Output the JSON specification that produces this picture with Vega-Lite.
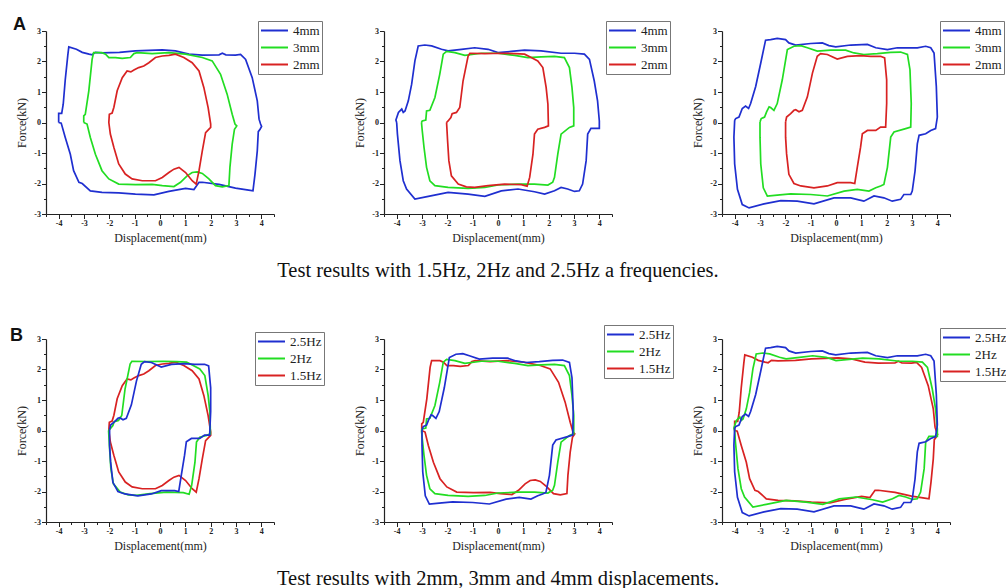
{
"$schema": "https://vega.github.io/schema/vega-lite/v6.json",
"padding": {"left": 10, "top": 15, "right": 0, "bottom": 0},
"background": "white",
"config": {
  "view": {"stroke": null},
  "axis": {"domainColor": "#222", "tickColor": "#222", "labelColor": "#222", "labelFont": "Liberation Serif", "labelFontWeight": "bold", "labelFontSize": 8, "titleFont": "Liberation Serif", "titleFontWeight": "normal", "titleFontSize": 12, "titleColor": "#222", "grid": false, "labelPadding": 1, "titlePadding": 5, "domainWidth": 1.2, "tickWidth": 1},
  "legend": {"orient": "none", "symbolType": "M-1,0H3.15", "symbolSize": 169, "symbolStrokeWidth": 2, "labelFont": "Liberation Serif", "labelFontSize": 13, "labelColor": "#222", "labelOffset": 18, "rowPadding": 2, "padding": 2, "strokeColor": "#777", "fillColor": "white"}
},
"datasets": {
"loops": [
{"f":"1.5Hz","a":"4mm","x":-4.0,"y":0.0},{"f":"1.5Hz","a":"4mm","x":-4.0,"y":0.3},{"f":"1.5Hz","a":"4mm","x":-3.88,"y":0.3},{"f":"1.5Hz","a":"4mm","x":-3.82,"y":0.6},{"f":"1.5Hz","a":"4mm","x":-3.74,"y":1.4},{"f":"1.5Hz","a":"4mm","x":-3.64,"y":2.2},{"f":"1.5Hz","a":"4mm","x":-3.6,"y":2.48},{"f":"1.5Hz","a":"4mm","x":-3.3,"y":2.4},{"f":"1.5Hz","a":"4mm","x":-3.07,"y":2.3},{"f":"1.5Hz","a":"4mm","x":-2.8,"y":2.24},{"f":"1.5Hz","a":"4mm","x":-2.68,"y":2.22},{"f":"1.5Hz","a":"4mm","x":-2.55,"y":2.3},{"f":"1.5Hz","a":"4mm","x":-2.29,"y":2.28},{"f":"1.5Hz","a":"4mm","x":-1.6,"y":2.3},{"f":"1.5Hz","a":"4mm","x":-0.97,"y":2.35},{"f":"1.5Hz","a":"4mm","x":0.09,"y":2.38},{"f":"1.5Hz","a":"4mm","x":0.61,"y":2.35},{"f":"1.5Hz","a":"4mm","x":1.14,"y":2.24},{"f":"1.5Hz","a":"4mm","x":1.67,"y":2.21},{"f":"1.5Hz","a":"4mm","x":2.33,"y":2.22},{"f":"1.5Hz","a":"4mm","x":2.46,"y":2.27},{"f":"1.5Hz","a":"4mm","x":2.6,"y":2.22},{"f":"1.5Hz","a":"4mm","x":2.98,"y":2.21},{"f":"1.5Hz","a":"4mm","x":3.18,"y":2.23},{"f":"1.5Hz","a":"4mm","x":3.38,"y":2.07},{"f":"1.5Hz","a":"4mm","x":3.64,"y":1.47},{"f":"1.5Hz","a":"4mm","x":3.84,"y":0.71},{"f":"1.5Hz","a":"4mm","x":3.91,"y":0.11},{"f":"1.5Hz","a":"4mm","x":3.97,"y":-0.05},{"f":"1.5Hz","a":"4mm","x":4.01,"y":-0.13},{"f":"1.5Hz","a":"4mm","x":3.95,"y":-0.22},{"f":"1.5Hz","a":"4mm","x":3.88,"y":-0.3},{"f":"1.5Hz","a":"4mm","x":3.84,"y":-0.93},{"f":"1.5Hz","a":"4mm","x":3.75,"y":-1.69},{"f":"1.5Hz","a":"4mm","x":3.67,"y":-2.24},{"f":"1.5Hz","a":"4mm","x":3.5,"y":-2.22},{"f":"1.5Hz","a":"4mm","x":2.98,"y":-2.15},{"f":"1.5Hz","a":"4mm","x":2.33,"y":-2.03},{"f":"1.5Hz","a":"4mm","x":1.67,"y":-1.96},{"f":"1.5Hz","a":"4mm","x":1.54,"y":-1.96},{"f":"1.5Hz","a":"4mm","x":1.34,"y":-2.2},{"f":"1.5Hz","a":"4mm","x":1.01,"y":-2.16},{"f":"1.5Hz","a":"4mm","x":0.35,"y":-2.26},{"f":"1.5Hz","a":"4mm","x":-0.24,"y":-2.37},{"f":"1.5Hz","a":"4mm","x":-0.97,"y":-2.35},{"f":"1.5Hz","a":"4mm","x":-1.63,"y":-2.31},{"f":"1.5Hz","a":"4mm","x":-2.29,"y":-2.29},{"f":"1.5Hz","a":"4mm","x":-2.75,"y":-2.24},{"f":"1.5Hz","a":"4mm","x":-3.07,"y":-2.0},{"f":"1.5Hz","a":"4mm","x":-3.2,"y":-1.96},{"f":"1.5Hz","a":"4mm","x":-3.41,"y":-1.58},{"f":"1.5Hz","a":"4mm","x":-3.54,"y":-1.04},{"f":"1.5Hz","a":"4mm","x":-3.74,"y":-0.49},{"f":"1.5Hz","a":"4mm","x":-3.9,"y":-0.02},{"f":"1.5Hz","a":"4mm","x":-4.0,"y":0.0},
{"f":"1.5Hz","a":"3mm","x":-3.01,"y":0.0},{"f":"1.5Hz","a":"3mm","x":-3.01,"y":0.22},{"f":"1.5Hz","a":"3mm","x":-2.95,"y":0.27},{"f":"1.5Hz","a":"3mm","x":-2.81,"y":1.04},{"f":"1.5Hz","a":"3mm","x":-2.68,"y":2.07},{"f":"1.5Hz","a":"3mm","x":-2.62,"y":2.29},{"f":"1.5Hz","a":"3mm","x":-2.29,"y":2.29},{"f":"1.5Hz","a":"3mm","x":-2.15,"y":2.24},{"f":"1.5Hz","a":"3mm","x":-2.02,"y":2.13},{"f":"1.5Hz","a":"3mm","x":-1.76,"y":2.13},{"f":"1.5Hz","a":"3mm","x":-1.49,"y":2.1},{"f":"1.5Hz","a":"3mm","x":-1.17,"y":2.13},{"f":"1.5Hz","a":"3mm","x":-1.03,"y":2.26},{"f":"1.5Hz","a":"3mm","x":-0.9,"y":2.29},{"f":"1.5Hz","a":"3mm","x":-0.31,"y":2.26},{"f":"1.5Hz","a":"3mm","x":0.35,"y":2.29},{"f":"1.5Hz","a":"3mm","x":1.01,"y":2.24},{"f":"1.5Hz","a":"3mm","x":1.67,"y":2.13},{"f":"1.5Hz","a":"3mm","x":2.06,"y":2.02},{"f":"1.5Hz","a":"3mm","x":2.39,"y":1.58},{"f":"1.5Hz","a":"3mm","x":2.65,"y":0.93},{"f":"1.5Hz","a":"3mm","x":2.85,"y":0.27},{"f":"1.5Hz","a":"3mm","x":2.96,"y":-0.05},{"f":"1.5Hz","a":"3mm","x":3.03,"y":-0.11},{"f":"1.5Hz","a":"3mm","x":2.94,"y":-0.22},{"f":"1.5Hz","a":"3mm","x":2.85,"y":-0.71},{"f":"1.5Hz","a":"3mm","x":2.76,"y":-1.47},{"f":"1.5Hz","a":"3mm","x":2.72,"y":-2.07},{"f":"1.5Hz","a":"3mm","x":2.46,"y":-2.11},{"f":"1.5Hz","a":"3mm","x":2.19,"y":-2.07},{"f":"1.5Hz","a":"3mm","x":1.93,"y":-1.85},{"f":"1.5Hz","a":"3mm","x":1.67,"y":-1.67},{"f":"1.5Hz","a":"3mm","x":1.47,"y":-1.62},{"f":"1.5Hz","a":"3mm","x":1.27,"y":-1.64},{"f":"1.5Hz","a":"3mm","x":1.07,"y":-1.75},{"f":"1.5Hz","a":"3mm","x":0.81,"y":-1.96},{"f":"1.5Hz","a":"3mm","x":0.55,"y":-2.1},{"f":"1.5Hz","a":"3mm","x":0.09,"y":-2.07},{"f":"1.5Hz","a":"3mm","x":-0.31,"y":-2.03},{"f":"1.5Hz","a":"3mm","x":-0.97,"y":-2.04},{"f":"1.5Hz","a":"3mm","x":-1.63,"y":-2.02},{"f":"1.5Hz","a":"3mm","x":-2.02,"y":-1.85},{"f":"1.5Hz","a":"3mm","x":-2.29,"y":-1.58},{"f":"1.5Hz","a":"3mm","x":-2.55,"y":-1.04},{"f":"1.5Hz","a":"3mm","x":-2.75,"y":-0.49},{"f":"1.5Hz","a":"3mm","x":-2.88,"y":-0.05},{"f":"1.5Hz","a":"3mm","x":-3.01,"y":0.0},
{"f":"1.5Hz","a":"2mm","x":-2.02,"y":0.0},{"f":"1.5Hz","a":"2mm","x":-2.0,"y":0.27},{"f":"1.5Hz","a":"2mm","x":-1.89,"y":0.31},{"f":"1.5Hz","a":"2mm","x":-1.82,"y":0.5},{"f":"1.5Hz","a":"2mm","x":-1.69,"y":1.04},{"f":"1.5Hz","a":"2mm","x":-1.49,"y":1.47},{"f":"1.5Hz","a":"2mm","x":-1.3,"y":1.69},{"f":"1.5Hz","a":"2mm","x":-1.15,"y":1.66},{"f":"1.5Hz","a":"2mm","x":-1.03,"y":1.72},{"f":"1.5Hz","a":"2mm","x":-0.84,"y":1.8},{"f":"1.5Hz","a":"2mm","x":-0.64,"y":1.85},{"f":"1.5Hz","a":"2mm","x":-0.44,"y":1.96},{"f":"1.5Hz","a":"2mm","x":-0.18,"y":2.13},{"f":"1.5Hz","a":"2mm","x":0.09,"y":2.18},{"f":"1.5Hz","a":"2mm","x":0.35,"y":2.2},{"f":"1.5Hz","a":"2mm","x":0.61,"y":2.24},{"f":"1.5Hz","a":"2mm","x":0.94,"y":2.13},{"f":"1.5Hz","a":"2mm","x":1.27,"y":1.96},{"f":"1.5Hz","a":"2mm","x":1.54,"y":1.69},{"f":"1.5Hz","a":"2mm","x":1.73,"y":1.15},{"f":"1.5Hz","a":"2mm","x":1.9,"y":0.49},{"f":"1.5Hz","a":"2mm","x":2.0,"y":-0.05},{"f":"1.5Hz","a":"2mm","x":2.0,"y":-0.16},{"f":"1.5Hz","a":"2mm","x":1.8,"y":-0.33},{"f":"1.5Hz","a":"2mm","x":1.67,"y":-0.93},{"f":"1.5Hz","a":"2mm","x":1.54,"y":-1.58},{"f":"1.5Hz","a":"2mm","x":1.43,"y":-2.02},{"f":"1.5Hz","a":"2mm","x":1.27,"y":-1.91},{"f":"1.5Hz","a":"2mm","x":1.01,"y":-1.64},{"f":"1.5Hz","a":"2mm","x":0.75,"y":-1.47},{"f":"1.5Hz","a":"2mm","x":0.55,"y":-1.53},{"f":"1.5Hz","a":"2mm","x":0.35,"y":-1.64},{"f":"1.5Hz","a":"2mm","x":0.09,"y":-1.8},{"f":"1.5Hz","a":"2mm","x":-0.18,"y":-1.91},{"f":"1.5Hz","a":"2mm","x":-0.7,"y":-1.91},{"f":"1.5Hz","a":"2mm","x":-1.1,"y":-1.85},{"f":"1.5Hz","a":"2mm","x":-1.37,"y":-1.69},{"f":"1.5Hz","a":"2mm","x":-1.63,"y":-1.36},{"f":"1.5Hz","a":"2mm","x":-1.82,"y":-0.82},{"f":"1.5Hz","a":"2mm","x":-1.96,"y":-0.38},{"f":"1.5Hz","a":"2mm","x":-2.02,"y":0.0},
{"f":"2Hz","a":"4mm","x":-4.0,"y":0.0},{"f":"2Hz","a":"4mm","x":-4.03,"y":0.08},{"f":"2Hz","a":"4mm","x":-3.93,"y":0.33},{"f":"2Hz","a":"4mm","x":-3.8,"y":0.44},{"f":"2Hz","a":"4mm","x":-3.74,"y":0.33},{"f":"2Hz","a":"4mm","x":-3.67,"y":0.38},{"f":"2Hz","a":"4mm","x":-3.54,"y":0.71},{"f":"2Hz","a":"4mm","x":-3.41,"y":1.25},{"f":"2Hz","a":"4mm","x":-3.28,"y":2.02},{"f":"2Hz","a":"4mm","x":-3.15,"y":2.51},{"f":"2Hz","a":"4mm","x":-2.89,"y":2.54},{"f":"2Hz","a":"4mm","x":-2.62,"y":2.51},{"f":"2Hz","a":"4mm","x":-2.23,"y":2.4},{"f":"2Hz","a":"4mm","x":-1.97,"y":2.35},{"f":"2Hz","a":"4mm","x":-1.44,"y":2.4},{"f":"2Hz","a":"4mm","x":-0.92,"y":2.45},{"f":"2Hz","a":"4mm","x":-0.39,"y":2.4},{"f":"2Hz","a":"4mm","x":0.0,"y":2.29},{"f":"2Hz","a":"4mm","x":0.52,"y":2.33},{"f":"2Hz","a":"4mm","x":1.05,"y":2.37},{"f":"2Hz","a":"4mm","x":1.7,"y":2.35},{"f":"2Hz","a":"4mm","x":2.49,"y":2.27},{"f":"2Hz","a":"4mm","x":3.02,"y":2.27},{"f":"2Hz","a":"4mm","x":3.41,"y":2.24},{"f":"2Hz","a":"4mm","x":3.61,"y":2.07},{"f":"2Hz","a":"4mm","x":3.8,"y":1.36},{"f":"2Hz","a":"4mm","x":3.93,"y":0.71},{"f":"2Hz","a":"4mm","x":4.0,"y":0.05},{"f":"2Hz","a":"4mm","x":4.0,"y":-0.19},{"f":"2Hz","a":"4mm","x":3.67,"y":-0.19},{"f":"2Hz","a":"4mm","x":3.54,"y":-0.38},{"f":"2Hz","a":"4mm","x":3.48,"y":-1.25},{"f":"2Hz","a":"4mm","x":3.34,"y":-2.02},{"f":"2Hz","a":"4mm","x":3.21,"y":-2.24},{"f":"2Hz","a":"4mm","x":3.02,"y":-2.26},{"f":"2Hz","a":"4mm","x":2.75,"y":-2.18},{"f":"2Hz","a":"4mm","x":2.49,"y":-2.13},{"f":"2Hz","a":"4mm","x":2.23,"y":-2.24},{"f":"2Hz","a":"4mm","x":1.84,"y":-2.35},{"f":"2Hz","a":"4mm","x":1.44,"y":-2.27},{"f":"2Hz","a":"4mm","x":0.79,"y":-2.18},{"f":"2Hz","a":"4mm","x":0.13,"y":-2.24},{"f":"2Hz","a":"4mm","x":-0.52,"y":-2.42},{"f":"2Hz","a":"4mm","x":-1.18,"y":-2.35},{"f":"2Hz","a":"4mm","x":-1.97,"y":-2.29},{"f":"2Hz","a":"4mm","x":-2.75,"y":-2.42},{"f":"2Hz","a":"4mm","x":-3.28,"y":-2.51},{"f":"2Hz","a":"4mm","x":-3.61,"y":-2.18},{"f":"2Hz","a":"4mm","x":-3.74,"y":-1.91},{"f":"2Hz","a":"4mm","x":-3.87,"y":-1.25},{"f":"2Hz","a":"4mm","x":-3.97,"y":-0.38},{"f":"2Hz","a":"4mm","x":-4.0,"y":0.0},
{"f":"2Hz","a":"3mm","x":-3.02,"y":0.0},{"f":"2Hz","a":"3mm","x":-2.99,"y":0.05},{"f":"2Hz","a":"3mm","x":-2.85,"y":0.08},{"f":"2Hz","a":"3mm","x":-2.82,"y":0.38},{"f":"2Hz","a":"3mm","x":-2.69,"y":0.4},{"f":"2Hz","a":"3mm","x":-2.49,"y":0.82},{"f":"2Hz","a":"3mm","x":-2.3,"y":1.58},{"f":"2Hz","a":"3mm","x":-2.16,"y":2.24},{"f":"2Hz","a":"3mm","x":-2.03,"y":2.33},{"f":"2Hz","a":"3mm","x":-1.7,"y":2.29},{"f":"2Hz","a":"3mm","x":-1.31,"y":2.2},{"f":"2Hz","a":"3mm","x":-0.66,"y":2.27},{"f":"2Hz","a":"3mm","x":0.0,"y":2.27},{"f":"2Hz","a":"3mm","x":0.66,"y":2.2},{"f":"2Hz","a":"3mm","x":1.18,"y":2.13},{"f":"2Hz","a":"3mm","x":1.7,"y":2.15},{"f":"2Hz","a":"3mm","x":2.23,"y":2.17},{"f":"2Hz","a":"3mm","x":2.62,"y":2.13},{"f":"2Hz","a":"3mm","x":2.82,"y":1.8},{"f":"2Hz","a":"3mm","x":2.92,"y":1.15},{"f":"2Hz","a":"3mm","x":2.99,"y":0.49},{"f":"2Hz","a":"3mm","x":2.99,"y":-0.11},{"f":"2Hz","a":"3mm","x":2.82,"y":-0.16},{"f":"2Hz","a":"3mm","x":2.49,"y":-0.38},{"f":"2Hz","a":"3mm","x":2.36,"y":-1.04},{"f":"2Hz","a":"3mm","x":2.23,"y":-1.8},{"f":"2Hz","a":"3mm","x":2.16,"y":-1.96},{"f":"2Hz","a":"3mm","x":1.97,"y":-2.05},{"f":"2Hz","a":"3mm","x":1.44,"y":-2.02},{"f":"2Hz","a":"3mm","x":0.79,"y":-2.02},{"f":"2Hz","a":"3mm","x":0.0,"y":-2.05},{"f":"2Hz","a":"3mm","x":-0.52,"y":-2.13},{"f":"2Hz","a":"3mm","x":-1.18,"y":-2.16},{"f":"2Hz","a":"3mm","x":-1.97,"y":-2.13},{"f":"2Hz","a":"3mm","x":-2.49,"y":-2.07},{"f":"2Hz","a":"3mm","x":-2.69,"y":-1.91},{"f":"2Hz","a":"3mm","x":-2.82,"y":-1.47},{"f":"2Hz","a":"3mm","x":-2.92,"y":-0.82},{"f":"2Hz","a":"3mm","x":-2.99,"y":-0.27},{"f":"2Hz","a":"3mm","x":-3.02,"y":0.0},
{"f":"2Hz","a":"2mm","x":-2.03,"y":0.0},{"f":"2Hz","a":"2mm","x":-1.97,"y":0.05},{"f":"2Hz","a":"2mm","x":-1.86,"y":0.16},{"f":"2Hz","a":"2mm","x":-1.81,"y":0.29},{"f":"2Hz","a":"2mm","x":-1.64,"y":0.33},{"f":"2Hz","a":"2mm","x":-1.51,"y":0.49},{"f":"2Hz","a":"2mm","x":-1.38,"y":1.36},{"f":"2Hz","a":"2mm","x":-1.18,"y":2.18},{"f":"2Hz","a":"2mm","x":-1.11,"y":2.27},{"f":"2Hz","a":"2mm","x":-0.52,"y":2.26},{"f":"2Hz","a":"2mm","x":0.13,"y":2.27},{"f":"2Hz","a":"2mm","x":0.66,"y":2.26},{"f":"2Hz","a":"2mm","x":1.05,"y":2.24},{"f":"2Hz","a":"2mm","x":1.31,"y":2.13},{"f":"2Hz","a":"2mm","x":1.57,"y":2.02},{"f":"2Hz","a":"2mm","x":1.77,"y":1.8},{"f":"2Hz","a":"2mm","x":1.9,"y":1.15},{"f":"2Hz","a":"2mm","x":1.97,"y":0.6},{"f":"2Hz","a":"2mm","x":1.99,"y":-0.11},{"f":"2Hz","a":"2mm","x":1.84,"y":-0.16},{"f":"2Hz","a":"2mm","x":1.57,"y":-0.22},{"f":"2Hz","a":"2mm","x":1.44,"y":-0.38},{"f":"2Hz","a":"2mm","x":1.38,"y":-1.04},{"f":"2Hz","a":"2mm","x":1.25,"y":-1.8},{"f":"2Hz","a":"2mm","x":1.15,"y":-2.09},{"f":"2Hz","a":"2mm","x":0.92,"y":-2.04},{"f":"2Hz","a":"2mm","x":0.26,"y":-2.02},{"f":"2Hz","a":"2mm","x":-0.39,"y":-2.07},{"f":"2Hz","a":"2mm","x":-0.92,"y":-2.13},{"f":"2Hz","a":"2mm","x":-1.25,"y":-2.11},{"f":"2Hz","a":"2mm","x":-1.57,"y":-2.02},{"f":"2Hz","a":"2mm","x":-1.84,"y":-1.75},{"f":"2Hz","a":"2mm","x":-1.94,"y":-1.25},{"f":"2Hz","a":"2mm","x":-1.99,"y":-0.6},{"f":"2Hz","a":"2mm","x":-2.03,"y":0.0},
{"f":"2.5Hz","a":"4mm","x":-4.0,"y":0.07},{"f":"2.5Hz","a":"4mm","x":-3.96,"y":0.13},{"f":"2.5Hz","a":"4mm","x":-3.83,"y":0.18},{"f":"2.5Hz","a":"4mm","x":-3.7,"y":0.46},{"f":"2.5Hz","a":"4mm","x":-3.57,"y":0.54},{"f":"2.5Hz","a":"4mm","x":-3.45,"y":0.46},{"f":"2.5Hz","a":"4mm","x":-3.37,"y":0.62},{"f":"2.5Hz","a":"4mm","x":-3.17,"y":1.18},{"f":"2.5Hz","a":"4mm","x":-2.97,"y":1.95},{"f":"2.5Hz","a":"4mm","x":-2.78,"y":2.7},{"f":"2.5Hz","a":"4mm","x":-2.58,"y":2.72},{"f":"2.5Hz","a":"4mm","x":-2.32,"y":2.76},{"f":"2.5Hz","a":"4mm","x":-1.99,"y":2.72},{"f":"2.5Hz","a":"4mm","x":-1.86,"y":2.61},{"f":"2.5Hz","a":"4mm","x":-1.59,"y":2.54},{"f":"2.5Hz","a":"4mm","x":-1.0,"y":2.59},{"f":"2.5Hz","a":"4mm","x":-0.54,"y":2.61},{"f":"2.5Hz","a":"4mm","x":-0.28,"y":2.52},{"f":"2.5Hz","a":"4mm","x":-0.01,"y":2.48},{"f":"2.5Hz","a":"4mm","x":0.58,"y":2.54},{"f":"2.5Hz","a":"4mm","x":1.24,"y":2.56},{"f":"2.5Hz","a":"4mm","x":1.57,"y":2.45},{"f":"2.5Hz","a":"4mm","x":2.03,"y":2.39},{"f":"2.5Hz","a":"4mm","x":2.42,"y":2.45},{"f":"2.5Hz","a":"4mm","x":3.21,"y":2.45},{"f":"2.5Hz","a":"4mm","x":3.54,"y":2.5},{"f":"2.5Hz","a":"4mm","x":3.74,"y":2.45},{"f":"2.5Hz","a":"4mm","x":3.87,"y":2.28},{"f":"2.5Hz","a":"4mm","x":3.96,"y":1.18},{"f":"2.5Hz","a":"4mm","x":4.0,"y":0.18},{"f":"2.5Hz","a":"4mm","x":3.93,"y":-0.2},{"f":"2.5Hz","a":"4mm","x":3.74,"y":-0.26},{"f":"2.5Hz","a":"4mm","x":3.54,"y":-0.37},{"f":"2.5Hz","a":"4mm","x":3.28,"y":-0.42},{"f":"2.5Hz","a":"4mm","x":3.21,"y":-0.7},{"f":"2.5Hz","a":"4mm","x":3.12,"y":-1.59},{"f":"2.5Hz","a":"4mm","x":3.01,"y":-2.25},{"f":"2.5Hz","a":"4mm","x":2.95,"y":-2.36},{"f":"2.5Hz","a":"4mm","x":2.68,"y":-2.36},{"f":"2.5Hz","a":"4mm","x":2.55,"y":-2.52},{"f":"2.5Hz","a":"4mm","x":2.22,"y":-2.58},{"f":"2.5Hz","a":"4mm","x":1.89,"y":-2.47},{"f":"2.5Hz","a":"4mm","x":1.5,"y":-2.41},{"f":"2.5Hz","a":"4mm","x":1.1,"y":-2.58},{"f":"2.5Hz","a":"4mm","x":0.58,"y":-2.47},{"f":"2.5Hz","a":"4mm","x":-0.08,"y":-2.47},{"f":"2.5Hz","a":"4mm","x":-0.87,"y":-2.67},{"f":"2.5Hz","a":"4mm","x":-1.53,"y":-2.58},{"f":"2.5Hz","a":"4mm","x":-2.18,"y":-2.56},{"f":"2.5Hz","a":"4mm","x":-2.84,"y":-2.67},{"f":"2.5Hz","a":"4mm","x":-3.43,"y":-2.8},{"f":"2.5Hz","a":"4mm","x":-3.7,"y":-2.69},{"f":"2.5Hz","a":"4mm","x":-3.89,"y":-2.19},{"f":"2.5Hz","a":"4mm","x":-4.0,"y":-1.36},{"f":"2.5Hz","a":"4mm","x":-4.03,"y":-0.48},{"f":"2.5Hz","a":"4mm","x":-4.0,"y":0.07},
{"f":"2.5Hz","a":"3mm","x":-3.0,"y":0.02},{"f":"2.5Hz","a":"3mm","x":-2.95,"y":0.13},{"f":"2.5Hz","a":"3mm","x":-2.82,"y":0.18},{"f":"2.5Hz","a":"3mm","x":-2.74,"y":0.35},{"f":"2.5Hz","a":"3mm","x":-2.64,"y":0.51},{"f":"2.5Hz","a":"3mm","x":-2.58,"y":0.49},{"f":"2.5Hz","a":"3mm","x":-2.45,"y":0.4},{"f":"2.5Hz","a":"3mm","x":-2.32,"y":0.62},{"f":"2.5Hz","a":"3mm","x":-2.12,"y":1.4},{"f":"2.5Hz","a":"3mm","x":-1.92,"y":2.39},{"f":"2.5Hz","a":"3mm","x":-1.66,"y":2.5},{"f":"2.5Hz","a":"3mm","x":-1.39,"y":2.52},{"f":"2.5Hz","a":"3mm","x":-1.13,"y":2.45},{"f":"2.5Hz","a":"3mm","x":-0.74,"y":2.34},{"f":"2.5Hz","a":"3mm","x":-0.21,"y":2.37},{"f":"2.5Hz","a":"3mm","x":0.38,"y":2.37},{"f":"2.5Hz","a":"3mm","x":0.71,"y":2.28},{"f":"2.5Hz","a":"3mm","x":1.1,"y":2.23},{"f":"2.5Hz","a":"3mm","x":1.63,"y":2.26},{"f":"2.5Hz","a":"3mm","x":2.16,"y":2.3},{"f":"2.5Hz","a":"3mm","x":2.55,"y":2.31},{"f":"2.5Hz","a":"3mm","x":2.82,"y":2.23},{"f":"2.5Hz","a":"3mm","x":2.92,"y":1.73},{"f":"2.5Hz","a":"3mm","x":2.97,"y":0.62},{"f":"2.5Hz","a":"3mm","x":2.95,"y":-0.15},{"f":"2.5Hz","a":"3mm","x":2.75,"y":-0.2},{"f":"2.5Hz","a":"3mm","x":2.29,"y":-0.31},{"f":"2.5Hz","a":"3mm","x":2.16,"y":-0.48},{"f":"2.5Hz","a":"3mm","x":2.03,"y":-1.47},{"f":"2.5Hz","a":"3mm","x":1.89,"y":-2.03},{"f":"2.5Hz","a":"3mm","x":1.76,"y":-2.08},{"f":"2.5Hz","a":"3mm","x":1.57,"y":-2.14},{"f":"2.5Hz","a":"3mm","x":1.3,"y":-2.25},{"f":"2.5Hz","a":"3mm","x":0.84,"y":-2.19},{"f":"2.5Hz","a":"3mm","x":0.32,"y":-2.25},{"f":"2.5Hz","a":"3mm","x":-0.34,"y":-2.41},{"f":"2.5Hz","a":"3mm","x":-1.0,"y":-2.36},{"f":"2.5Hz","a":"3mm","x":-1.79,"y":-2.34},{"f":"2.5Hz","a":"3mm","x":-2.32,"y":-2.38},{"f":"2.5Hz","a":"3mm","x":-2.71,"y":-2.41},{"f":"2.5Hz","a":"3mm","x":-2.87,"y":-2.14},{"f":"2.5Hz","a":"3mm","x":-2.97,"y":-1.36},{"f":"2.5Hz","a":"3mm","x":-3.0,"y":-0.48},{"f":"2.5Hz","a":"3mm","x":-3.0,"y":0.02},
{"f":"2.5Hz","a":"2mm","x":-1.99,"y":0.02},{"f":"2.5Hz","a":"2mm","x":-1.95,"y":0.18},{"f":"2.5Hz","a":"2mm","x":-1.79,"y":0.29},{"f":"2.5Hz","a":"2mm","x":-1.66,"y":0.4},{"f":"2.5Hz","a":"2mm","x":-1.59,"y":0.42},{"f":"2.5Hz","a":"2mm","x":-1.46,"y":0.35},{"f":"2.5Hz","a":"2mm","x":-1.33,"y":0.4},{"f":"2.5Hz","a":"2mm","x":-1.13,"y":0.84},{"f":"2.5Hz","a":"2mm","x":-0.93,"y":1.62},{"f":"2.5Hz","a":"2mm","x":-0.74,"y":2.17},{"f":"2.5Hz","a":"2mm","x":-0.61,"y":2.26},{"f":"2.5Hz","a":"2mm","x":-0.34,"y":2.23},{"f":"2.5Hz","a":"2mm","x":0.05,"y":2.08},{"f":"2.5Hz","a":"2mm","x":0.45,"y":2.17},{"f":"2.5Hz","a":"2mm","x":0.97,"y":2.19},{"f":"2.5Hz","a":"2mm","x":1.37,"y":2.17},{"f":"2.5Hz","a":"2mm","x":1.76,"y":2.17},{"f":"2.5Hz","a":"2mm","x":1.92,"y":2.12},{"f":"2.5Hz","a":"2mm","x":2.0,"y":1.4},{"f":"2.5Hz","a":"2mm","x":2.0,"y":0.62},{"f":"2.5Hz","a":"2mm","x":1.96,"y":-0.15},{"f":"2.5Hz","a":"2mm","x":1.76,"y":-0.15},{"f":"2.5Hz","a":"2mm","x":1.57,"y":-0.26},{"f":"2.5Hz","a":"2mm","x":1.24,"y":-0.26},{"f":"2.5Hz","a":"2mm","x":1.04,"y":-0.37},{"f":"2.5Hz","a":"2mm","x":0.97,"y":-0.81},{"f":"2.5Hz","a":"2mm","x":0.84,"y":-1.47},{"f":"2.5Hz","a":"2mm","x":0.74,"y":-2.0},{"f":"2.5Hz","a":"2mm","x":0.58,"y":-1.97},{"f":"2.5Hz","a":"2mm","x":0.05,"y":-1.97},{"f":"2.5Hz","a":"2mm","x":-0.34,"y":-2.08},{"f":"2.5Hz","a":"2mm","x":-0.87,"y":-2.14},{"f":"2.5Hz","a":"2mm","x":-1.39,"y":-2.08},{"f":"2.5Hz","a":"2mm","x":-1.66,"y":-2.0},{"f":"2.5Hz","a":"2mm","x":-1.86,"y":-1.7},{"f":"2.5Hz","a":"2mm","x":-1.95,"y":-1.03},{"f":"2.5Hz","a":"2mm","x":-1.99,"y":-0.48},{"f":"2.5Hz","a":"2mm","x":-1.99,"y":0.02}
]
},
"spacing": 43,
"vconcat": [
{
 "bounds": "flush",
 "spacing": 110,
 "resolve": {"scale": {"color": "independent"}, "legend": {"color": "independent"}},
 "hconcat": [
  {"width": 228, "height": 183,
   "title": {"text": "A", "orient": "top", "anchor": "start", "frame": "group", "font": "Liberation Sans", "fontSize": 18, "fontWeight": "bold", "color": "#111", "dx": -33, "dy": 15, "offset": 2},
   "data": {"name": "loops"}, "transform": [{"filter": "datum.f === '1.5Hz'"}],
   "mark": {"type": "line", "strokeWidth": 1.7},
   "encoding": {
    "x": {"field": "x", "type": "quantitative", "scale": {"domain": [-4.5, 4.5], "nice": false, "zero": false}, "axis": {"title": "Displacement(mm)", "values": [-4.5,-4,-3.5,-3,-2.5,-2,-1.5,-1,-0.5,0,0.5,1,1.5,2,2.5,3,3.5,4,4.5], "labelExpr": "datum.value % 1 === 0 ? '' + datum.value : ''", "tickSize": {"condition": {"test": "datum.value % 1 !== 0", "value": 2.5}, "value": 4.5}}},
    "y": {"field": "y", "type": "quantitative", "scale": {"domain": [-3, 3], "nice": false, "zero": false}, "axis": {"title": "Force(kN)", "values": [-3,-2.5,-2,-1.5,-1,-0.5,0,0.5,1,1.5,2,2.5,3], "labelExpr": "datum.value % 1 === 0 ? '' + datum.value : ''", "tickSize": {"condition": {"test": "datum.value % 1 !== 0", "value": 2.5}, "value": 4.5}}},
    "color": {"field": "a", "type": "nominal", "scale": {"domain": ["4mm", "3mm", "2mm"], "range": ["#1f2fd0", "#22dd22", "#d82222"]}, "legend": {"title": null, "orient": "none", "legendX": 212, "legendY": -10}},
    "order": {"value": null}
   }
  },
  {"width": 228, "height": 183,
   "title": {"text": "Test results with 1.5Hz, 2Hz and 2.5Hz a frequencies.", "orient": "bottom", "anchor": "middle", "frame": "group", "font": "Liberation Serif", "fontSize": 20.5, "fontWeight": "normal", "color": "#111", "offset": 17},
   "data": {"name": "loops"}, "transform": [{"filter": "datum.f === '2Hz'"}],
   "mark": {"type": "line", "strokeWidth": 1.7},
   "encoding": {
    "x": {"field": "x", "type": "quantitative", "scale": {"domain": [-4.5, 4.5], "nice": false, "zero": false}, "axis": {"title": "Displacement(mm)", "values": [-4.5,-4,-3.5,-3,-2.5,-2,-1.5,-1,-0.5,0,0.5,1,1.5,2,2.5,3,3.5,4,4.5], "labelExpr": "datum.value % 1 === 0 ? '' + datum.value : ''", "tickSize": {"condition": {"test": "datum.value % 1 !== 0", "value": 2.5}, "value": 4.5}}},
    "y": {"field": "y", "type": "quantitative", "scale": {"domain": [-3, 3], "nice": false, "zero": false}, "axis": {"title": "Force(kN)", "values": [-3,-2.5,-2,-1.5,-1,-0.5,0,0.5,1,1.5,2,2.5,3], "labelExpr": "datum.value % 1 === 0 ? '' + datum.value : ''", "tickSize": {"condition": {"test": "datum.value % 1 !== 0", "value": 2.5}, "value": 4.5}}},
    "color": {"field": "a", "type": "nominal", "scale": {"domain": ["4mm", "3mm", "2mm"], "range": ["#1f2fd0", "#22dd22", "#d82222"]}, "legend": {"title": null, "orient": "none", "legendX": 222, "legendY": -10}},
    "order": {"value": null}
   }
  },
  {"width": 228, "height": 183,
   "data": {"name": "loops"}, "transform": [{"filter": "datum.f === '2.5Hz'"}],
   "mark": {"type": "line", "strokeWidth": 1.7},
   "encoding": {
    "x": {"field": "x", "type": "quantitative", "scale": {"domain": [-4.5, 4.5], "nice": false, "zero": false}, "axis": {"title": "Displacement(mm)", "values": [-4.5,-4,-3.5,-3,-2.5,-2,-1.5,-1,-0.5,0,0.5,1,1.5,2,2.5,3,3.5,4,4.5], "labelExpr": "datum.value % 1 === 0 ? '' + datum.value : ''", "tickSize": {"condition": {"test": "datum.value % 1 !== 0", "value": 2.5}, "value": 4.5}}},
    "y": {"field": "y", "type": "quantitative", "scale": {"domain": [-3, 3], "nice": false, "zero": false}, "axis": {"title": "Force(kN)", "values": [-3,-2.5,-2,-1.5,-1,-0.5,0,0.5,1,1.5,2,2.5,3], "labelExpr": "datum.value % 1 === 0 ? '' + datum.value : ''", "tickSize": {"condition": {"test": "datum.value % 1 !== 0", "value": 2.5}, "value": 4.5}}},
    "color": {"field": "a", "type": "nominal", "scale": {"domain": ["4mm", "3mm", "2mm"], "range": ["#1f2fd0", "#22dd22", "#d82222"]}, "legend": {"title": null, "orient": "none", "legendX": 218, "legendY": -10}},
    "order": {"value": null}
   }
  }
 ]
},
{
 "bounds": "flush",
 "spacing": 110,
 "resolve": {"scale": {"color": "independent"}, "legend": {"color": "independent"}},
 "hconcat": [
  {"width": 228, "height": 183,
   "title": {"text": "B", "orient": "top", "anchor": "start", "frame": "group", "font": "Liberation Sans", "fontSize": 18, "fontWeight": "bold", "color": "#111", "dx": -36, "dy": 15, "offset": 2},
   "data": {"name": "loops"}, "transform": [{"filter": "datum.a === '2mm'"}],
   "mark": {"type": "line", "strokeWidth": 1.7},
   "encoding": {
    "x": {"field": "x", "type": "quantitative", "scale": {"domain": [-4.5, 4.5], "nice": false, "zero": false}, "axis": {"title": "Displacement(mm)", "values": [-4.5,-4,-3.5,-3,-2.5,-2,-1.5,-1,-0.5,0,0.5,1,1.5,2,2.5,3,3.5,4,4.5], "labelExpr": "datum.value % 1 === 0 ? '' + datum.value : ''", "tickSize": {"condition": {"test": "datum.value % 1 !== 0", "value": 2.5}, "value": 4.5}}},
    "y": {"field": "y", "type": "quantitative", "scale": {"domain": [-3, 3], "nice": false, "zero": false}, "axis": {"title": "Force(kN)", "values": [-3,-2.5,-2,-1.5,-1,-0.5,0,0.5,1,1.5,2,2.5,3], "labelExpr": "datum.value % 1 === 0 ? '' + datum.value : ''", "tickSize": {"condition": {"test": "datum.value % 1 !== 0", "value": 2.5}, "value": 4.5}}},
    "color": {"field": "f", "type": "nominal", "scale": {"domain": ["2.5Hz", "2Hz", "1.5Hz"], "range": ["#1f2fd0", "#22dd22", "#d82222"]}, "legend": {"title": null, "orient": "none", "legendX": 209, "legendY": -7}},
    "order": {"value": null}
   }
  },
  {"width": 228, "height": 183,
   "title": {"text": "Test results with 2mm, 3mm and 4mm displacements.", "orient": "bottom", "anchor": "middle", "frame": "group", "font": "Liberation Serif", "fontSize": 20.5, "fontWeight": "normal", "color": "#111", "offset": 17},
   "data": {"name": "loops"}, "transform": [{"filter": "datum.a === '3mm'"}],
   "mark": {"type": "line", "strokeWidth": 1.7},
   "encoding": {
    "x": {"field": "x", "type": "quantitative", "scale": {"domain": [-4.5, 4.5], "nice": false, "zero": false}, "axis": {"title": "Displacement(mm)", "values": [-4.5,-4,-3.5,-3,-2.5,-2,-1.5,-1,-0.5,0,0.5,1,1.5,2,2.5,3,3.5,4,4.5], "labelExpr": "datum.value % 1 === 0 ? '' + datum.value : ''", "tickSize": {"condition": {"test": "datum.value % 1 !== 0", "value": 2.5}, "value": 4.5}}},
    "y": {"field": "y", "type": "quantitative", "scale": {"domain": [-3, 3], "nice": false, "zero": false}, "axis": {"title": "Force(kN)", "values": [-3,-2.5,-2,-1.5,-1,-0.5,0,0.5,1,1.5,2,2.5,3], "labelExpr": "datum.value % 1 === 0 ? '' + datum.value : ''", "tickSize": {"condition": {"test": "datum.value % 1 !== 0", "value": 2.5}, "value": 4.5}}},
    "color": {"field": "f", "type": "nominal", "scale": {"domain": ["2.5Hz", "2Hz", "1.5Hz"], "range": ["#1f2fd0", "#22dd22", "#d82222"]}, "legend": {"title": null, "orient": "none", "legendX": 220, "legendY": -14}},
    "order": {"value": null}
   }
  },
  {"width": 228, "height": 183,
   "data": {"name": "loops"}, "transform": [{"filter": "datum.a === '4mm'"}],
   "mark": {"type": "line", "strokeWidth": 1.7},
   "encoding": {
    "x": {"field": "x", "type": "quantitative", "scale": {"domain": [-4.5, 4.5], "nice": false, "zero": false}, "axis": {"title": "Displacement(mm)", "values": [-4.5,-4,-3.5,-3,-2.5,-2,-1.5,-1,-0.5,0,0.5,1,1.5,2,2.5,3,3.5,4,4.5], "labelExpr": "datum.value % 1 === 0 ? '' + datum.value : ''", "tickSize": {"condition": {"test": "datum.value % 1 !== 0", "value": 2.5}, "value": 4.5}}},
    "y": {"field": "y", "type": "quantitative", "scale": {"domain": [-3, 3], "nice": false, "zero": false}, "axis": {"title": "Force(kN)", "values": [-3,-2.5,-2,-1.5,-1,-0.5,0,0.5,1,1.5,2,2.5,3], "labelExpr": "datum.value % 1 === 0 ? '' + datum.value : ''", "tickSize": {"condition": {"test": "datum.value % 1 !== 0", "value": 2.5}, "value": 4.5}}},
    "color": {"field": "f", "type": "nominal", "scale": {"domain": ["2.5Hz", "2Hz", "1.5Hz"], "range": ["#1f2fd0", "#22dd22", "#d82222"]}, "legend": {"title": null, "orient": "none", "legendX": 218, "legendY": -11}},
    "order": {"value": null}
   }
  }
 ]
}
]
}
